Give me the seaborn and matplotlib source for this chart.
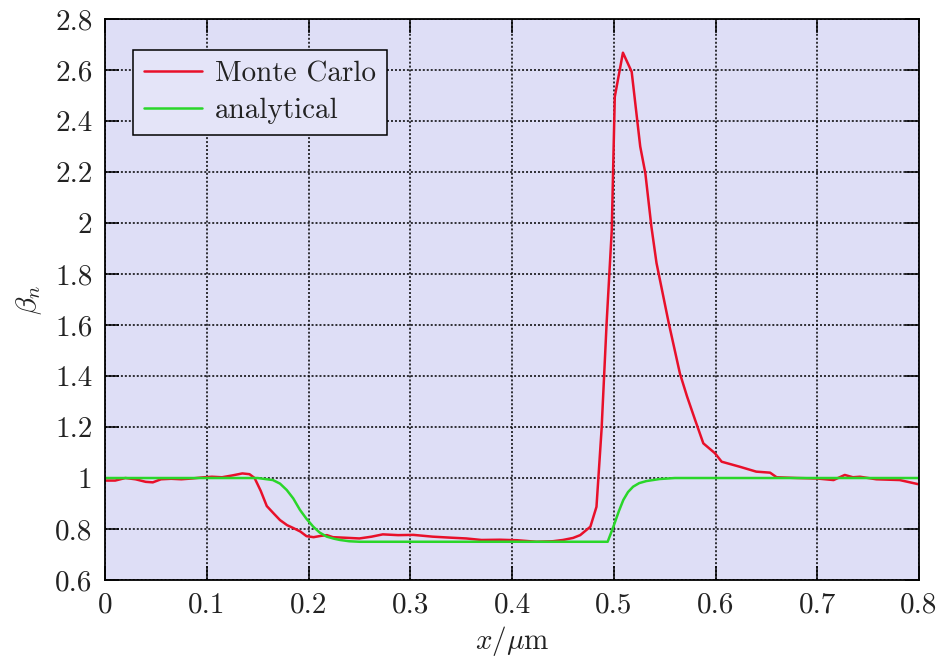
import numpy as np
import pandas as pd
import matplotlib
matplotlib.use("Agg")
import matplotlib.pyplot as plt
from matplotlib.ticker import FuncFormatter, MultipleLocator
import seaborn as sns

# Monte Carlo estimate of beta_n along x (um)
mc_x = [0.000, 0.010, 0.020, 0.030, 0.040, 0.047, 0.055, 0.065, 0.075, 0.085,
        0.095, 0.105, 0.115, 0.125, 0.135, 0.142, 0.147, 0.153, 0.159, 0.166,
        0.172, 0.179, 0.185, 0.192, 0.198, 0.205, 0.212, 0.218, 0.224, 0.235,
        0.250, 0.262, 0.273, 0.288, 0.303, 0.322, 0.340, 0.355, 0.370, 0.388,
        0.405, 0.424, 0.440, 0.450, 0.460, 0.467, 0.477, 0.483, 0.488, 0.493,
        0.498, 0.501, 0.509, 0.5176, 0.526, 0.531, 0.537, 0.542, 0.554, 0.565,
        0.572, 0.580, 0.588, 0.5995, 0.606, 0.624, 0.640, 0.6536, 0.660, 0.680,
        0.700, 0.716, 0.727, 0.735, 0.742, 0.758, 0.781, 0.799]
mc_y = [0.990, 0.990, 1.000, 0.995, 0.985, 0.983, 0.995, 0.997, 0.995, 0.998,
        1.002, 1.005, 1.003, 1.010, 1.018, 1.015, 1.000, 0.950, 0.890, 0.860,
        0.835, 0.815, 0.804, 0.790, 0.772, 0.768, 0.773, 0.776, 0.768, 0.766,
        0.763, 0.770, 0.779, 0.776, 0.777, 0.770, 0.766, 0.763, 0.757, 0.758,
        0.756, 0.750, 0.752, 0.757, 0.765, 0.776, 0.809, 0.887, 1.190, 1.610,
        1.970, 2.495, 2.668, 2.593, 2.300, 2.196, 1.985, 1.843, 1.608, 1.410,
        1.320, 1.227, 1.136, 1.097, 1.064, 1.044, 1.025, 1.021, 1.003, 1.000,
        0.998, 0.992, 1.012, 1.003, 1.005, 0.995, 0.992, 0.976]

# Analytical beta_n
an_x = [0.000, 0.100, 0.150, 0.165, 0.172, 0.1786, 0.185, 0.1916, 0.198, 0.2047,
        0.211, 0.218, 0.225, 0.231, 0.240, 0.250, 0.494, 0.4996, 0.505, 0.5094,
        0.514, 0.519, 0.525, 0.532, 0.545, 0.560, 0.800]
an_y = [1.000, 1.000, 1.000, 0.992, 0.978, 0.953, 0.920, 0.875, 0.840, 0.809,
        0.786, 0.770, 0.762, 0.757, 0.752, 0.750, 0.750, 0.809, 0.870, 0.914,
        0.945, 0.966, 0.980, 0.988, 0.996, 1.000, 1.000]

series_names = ["Monte Carlo", "analytical"]
series_colors = ["#e8102a", "#2ad62a"]

df = pd.concat([
    pd.DataFrame({"x": mc_x, "beta": mc_y, "series": series_names[0]}),
    pd.DataFrame({"x": an_x, "beta": an_y, "series": series_names[1]}),
], ignore_index=True)

sns.set_style("ticks")
plt.rcParams["font.family"] = "serif"
plt.rcParams["font.serif"] = ["cmr10", "DejaVu Serif"]
plt.rcParams["mathtext.fontset"] = "cm"
plt.rcParams["axes.unicode_minus"] = False
plt.rcParams["axes.formatter.use_mathtext"] = True

bg = "#dedef6"
fs = 21
ink = "#222222"

fig = plt.figure(figsize=(9.4, 6.65), dpi=100)
ax = fig.add_axes([0.1117, 0.1278, 0.866, 0.8436])
ax.set_facecolor(bg)

sns.lineplot(data=df, x="x", y="beta", hue="series", hue_order=series_names,
             palette=series_colors, sort=False, estimator=None, lw=1.8, ax=ax)

ax.set_xlim(0, 0.8)
ax.set_ylim(0.6, 2.8)
ax.xaxis.set_major_locator(MultipleLocator(0.1))
ax.yaxis.set_major_locator(MultipleLocator(0.2))
fmt = FuncFormatter(lambda v, p: f"{round(v, 3):g}")
ax.xaxis.set_major_formatter(fmt)
ax.yaxis.set_major_formatter(fmt)

ax.grid(True, color="black", linestyle=(0, (1.3, 1.3)), linewidth=1.1)
ax.set_axisbelow(True)
for s in ax.spines.values():
    s.set_visible(True)
    s.set_color("black")
    s.set_linewidth(1.3)
ax.tick_params(direction="in", length=10, width=1.1, top=True, right=True,
               labelsize=fs, pad=9, colors="black", labelcolor=ink)

ax.set_xlabel(r"$x/\mu\mathrm{m}$", fontsize=fs, labelpad=4, color=ink)
ax.set_ylabel(r"$\beta_n$", fontsize=fs, labelpad=8, color=ink)

leg = ax.legend(loc="upper left", bbox_to_anchor=(0.034, 0.9447),
                borderaxespad=0, fontsize=fs, frameon=True, fancybox=False,
                edgecolor="black", facecolor="#e4e4f8", framealpha=1,
                handlelength=2.0, handletextpad=0.45, labelspacing=0.35,
                borderpad=0.38)
leg.get_frame().set_linewidth(1.1)
for t in leg.get_texts():
    t.set_color(ink)

fig.savefig("out.png", dpi=100)
